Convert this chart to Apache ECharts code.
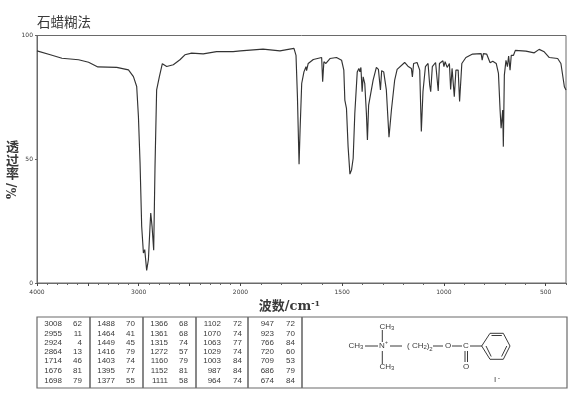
<!DOCTYPE html>
<html><head><meta charset="utf-8">
<style>html,body{margin:0;padding:0;background:#fff}#c{width:570px;height:394px}</style>
<script src="https://cdn.jsdelivr.net/npm/echarts@6/dist/echarts.min.js"></script>
</head><body><div id="c"></div>
<script>
const wavenumbers = [4000,3869,3755,3591,3493,3402,3216,3101,3052,3020,3003,2987,2971,2954,2941,2922,2905,2889,2882,2869,2853,2840,2824,2797,2768,2752,2725,2660,2595,2546,2480,2366,2235,2072,2000,1889,1806,1765,1737,1727,1720,1712,1707,1699,1688,1678,1675,1667,1642,1601,1596,1590,1580,1560,1528,1503,1492,1487,1479,1471,1462,1454,1446,1438,1426,1418,1413,1408,1402,1397,1389,1381,1376,1370,1361,1348,1332,1322,1312,1306,1296,1283,1270,1258,1242,1230,1193,1177,1160,1155,1149,1132,1119,1111,1103,1091,1078,1070,1065,1057,1041,1033,1028,1022,1005,1000,994,984,973,967,960,949,941,930,923,912,892,859,817,812,806,790,773,760,743,732,724,719,711,708,703,695,688,682,675,669,658,649,597,556,532,507,482,441,425,408,400];
const transmittance = [93.8,92.2,90.8,90.2,89.2,87.3,87.1,86.1,83.4,79.4,67.3,48.5,22.9,12.1,13.5,5.1,9.4,22.9,28.3,22.9,13.2,47,78,83.4,88.6,88.8,87.5,88.2,90.2,92.2,92.9,92.6,93.5,93.5,93.8,94.5,93.8,94.4,94.8,92,75.3,48,61.8,80.6,85.3,87.4,85.8,88.7,90.3,91.1,81.3,89.4,88.7,90.7,91.1,90,86,73.9,70.6,55.1,44,45.7,50.4,68.5,85.3,86.7,85.3,87.1,77.3,83.3,80.6,68.5,57.8,71.9,72.6,82,87.1,86.3,78,85.8,85.3,78,58.9,69.9,82,86.3,89.1,87.6,86.7,83.3,88.7,89.1,86,61.2,77.3,87.4,88.7,80,77.3,87.4,89.1,89.4,77.6,88.7,89.8,87.4,89.4,87.1,88.7,78.2,86.7,75.3,86,86,73.3,88.7,91.1,92.5,92.7,90,92.7,92.5,89,89.6,88.7,84.7,69.9,62.5,69.9,55.1,84,90,87.4,91.7,86,92,92,94,93.7,93,94.4,93.4,91.1,90.7,88.7,79.3,78];
const xTickLabels = [4000,3000,2000,1500,1000,500];
const yTickLabels = [0,50,100];
const titleText = '石蜡糊法';
const peakWave = [[3008,2955,2924,2864,1714,1676,1698],[1488,1464,1449,1416,1403,1395,1377],[1366,1361,1315,1272,1160,1152,1111],[1102,1070,1063,1029,1003,987,964],[947,923,766,720,709,686,674]];
const peakT = [[62,11,4,13,46,81,79],[70,41,45,79,74,77,55],[68,68,74,57,79,81,58],[72,74,77,74,84,84,74],[72,70,84,60,53,79,84]];

// The printed axis is expanded twofold below 2000 cm-1.
const xScale = w => w >= 2000 ? 4000 - w : 2000 + (2000 - w) * 2;
const majorW = [], minorW = [];
for (let w = 4000; w >= 400; w -= 100) (w % 500 === 0 ? majorW : minorW).push(w);
const labelByU = {}; xTickLabels.forEach(w => labelByU[xScale(w)] = String(w));

const INK = '#3a3a3a', FRAME = '#6a6a6a';
const txt = (x, y, s, font, align) => ({type:'text', silent:true, style:{x, y, text:s, font, fill:INK, align:align||'center', verticalAlign:'middle'}});
const seg = (x1, y1, x2, y2, w, c) => ({type:'line', silent:true, shape:{x1,y1,x2,y2}, style:{stroke:c||INK, lineWidth:w||1}});

const g = [];
// table frame
g.push({type:'rect', silent:true, shape:{x:37,y:317,width:530,height:71}, style:{fill:'none',stroke:FRAME,lineWidth:1.2}});
[90,143,196,248,302].forEach(x => g.push(seg(x,317,x,388,1.6,FRAME)));
// table text
const rowY = [324,333.5,343,352,361,371,381];
const waveRight = [62,115,168,221,274], valRight = [82,135,188,242,295];
const tableFont = '8px "Liberation Sans"';
peakWave.forEach((col,i) => col.forEach((w,j) => {
  g.push(txt(waveRight[i], rowY[j], String(w), tableFont, 'right'));
  g.push(txt(valRight[i], rowY[j], String(peakT[i][j]), tableFont, 'right'));
}));
// structure
const sf = '8px "Liberation Sans"';
const chem = (x,y,base,sub) => ({type:'text', silent:true, style:{x,y,text:'{b|'+base+'}{s|'+sub+'}',align:'center',verticalAlign:'middle',fill:INK,rich:{b:{font:sf,fill:INK},s:{font:'6px "Liberation Sans"',fill:INK,verticalAlign:'bottom',padding:[3,0,0,0]}}}});
g.push(chem(387,327,'CH','3'), chem(356,346,'CH','3'), chem(387,367,'CH','3'));
g.push(txt(382,346,'N',sf), txt(386.5,343,'+','5px "Liberation Sans"'));
g.push(seg(382.3,330,382.3,342), seg(365,346,378,346), seg(382.3,351,382.3,364), seg(390,346,402,346));
g.push(chem(417,346,'( CH','2'), txt(428,346,')','8px "Liberation Sans"'), txt(431,349,'2','6px "Liberation Sans"'));
g.push(seg(433,346,443,346), txt(448,346,'O',sf), seg(452,346,462,346), txt(466,346,'C',sf));
g.push(seg(465,351,465,362), seg(467.5,351,467.5,362), txt(466,367,'O',sf), seg(470,346,482,346));
const hex = [[481.7,346],[490,333.3],[503.3,333.3],[510,346],[503.3,359.3],[490,359.3]];
hex.forEach((p,i) => { const q = hex[(i+1)%6]; g.push(seg(p[0],p[1],q[0],q[1])); });
g.push(seg(491.5,335.5,501.8,335.5), seg(506.8,346,501.6,356.5), seg(486,346,491.2,356.5));
g.push(txt(495,380,'I','8px "Liberation Sans"'), txt(499,378,'-','7px "Liberation Sans"'));
// y-axis caption: stacked characters, then the rotated unit
const CAP = 'bold 13px "DejaVu Serif","Noto Sans CJK SC"';
['透','过','率'].forEach((c,i) => g.push(txt(12.5, 148 + i*13.5, c, CAP)));
g.push({type:'text', silent:true, x:12.5, y:191, rotation:Math.PI/2, style:{x:0,y:0,text:'%/',font:'bold 12px "DejaVu Serif"',fill:INK,align:'center',verticalAlign:'middle'}});

const chart = echarts.init(document.getElementById('c'), null, {renderer:'canvas'});
chart.setOption({
  animation:false,
  backgroundColor:'#fff',
  title:{text:titleText,left:37,top:15,padding:0,textStyle:{fontFamily:'"Noto Sans CJK SC"',fontSize:13.5,fontWeight:'normal',color:INK}},
  grid:{left:37,top:35.5,width:529,height:247.5,show:true,borderColor:FRAME,borderWidth:1,backgroundColor:'transparent'},
  xAxis:[{
    type:'value',min:0,max:xScale(400),position:'bottom',
    splitLine:{show:false},axisLine:{lineStyle:{color:FRAME}},
    axisTick:{show:true,length:3,lineStyle:{color:'#444'},customValues:majorW.map(xScale)},
    axisLabel:{show:true,customValues:xTickLabels.map(xScale),formatter:v=>labelByU[v]||'',fontSize:6,fontFamily:'"DejaVu Sans"',color:INK,margin:6},
    name:'波数/cm{sup|-1}',nameLocation:'middle',nameGap:13,
    nameTextStyle:{fontFamily:'"DejaVu Serif","Noto Sans CJK SC"',fontSize:13,fontWeight:'bold',color:INK,padding:[0,24,0,0],rich:{sup:{fontSize:8,color:INK,verticalAlign:'top',padding:[0,0,6,0]}}}
  },{
    type:'value',min:0,max:xScale(400),position:'bottom',
    splitLine:{show:false},axisLine:{show:false},axisLabel:{show:false},
    axisTick:{show:true,length:2,lineStyle:{color:'#666'},customValues:minorW.map(xScale)}
  }],
  yAxis:{
    type:'value',min:0,max:100,interval:50,
    splitLine:{show:false},axisLine:{show:true,lineStyle:{color:FRAME}},axisTick:{show:true,length:2,lineStyle:{color:'#666'}},
    axisLabel:{fontSize:6,fontFamily:'"DejaVu Sans"',color:INK,margin:4,formatter:v=>yTickLabels.includes(v)?String(v):''}
  },
  series:[{
    type:'line',xAxisIndex:0,symbol:'none',smooth:false,clip:true,
    lineStyle:{color:'#333',width:1.15},
    data:wavenumbers.map((w,i)=>[xScale(w),transmittance[i]])
  }],
  graphic:{elements:g}
});
</script></body></html>
